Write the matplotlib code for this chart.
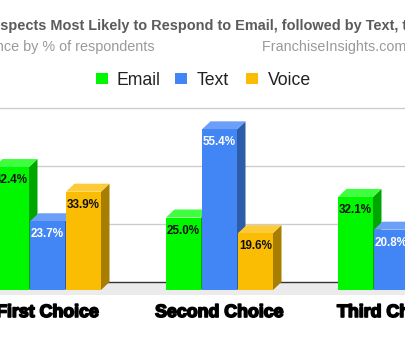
import matplotlib.pyplot as plt
from matplotlib.patches import Polygon, Rectangle
import matplotlib.patheffects as pe
import numpy as np

plt.rcParams['font.family'] = ['Liberation Sans', 'DejaVu Sans']

categories = ['First Choice', 'Second Choice', 'Third Choice']
series = ['Email', 'Text', 'Voice']
email = [42.4, 25.0, 32.1]
text = [23.7, 55.4, 20.8]
voice = [33.9, 19.6, 47.1]
grid_values = [20, 40, 60]

title = 'Prospects Most Likely to Respond to Email, followed by Text, then Voice'
subtitle = 'Channel Preference by % of respondents'
source = 'FranchiseInsights.com, 2019'

# front, side, top shades for each series
shades = {
    'Email': ('#00f700', '#00a600', '#3dff3d'),
    'Text': ('#4285f4', '#2d5ca8', '#6c9ff7'),
    'Voice': ('#fbbc04', '#a87e00', '#fccb37'),
}
label_colors = {'Email': '#111111', 'Text': 'white', 'Voice': '#111111'}

W, H = 406, 339
fig = plt.figure(figsize=(W / 100, H / 100), dpi=100)
ax = fig.add_axes([0, 0, 1, 1])
ax.axis('off')

# pixel layout of the plot area
group_px = 172.0      # distance between category groups
bar_px = 35.0         # bar width
step_px = 36.0        # distance between bars in a group
first_px = 47.5       # x of the middle bar of the first group
base_px = 290.0       # y (from top) of the value 0 on the front plane
pct_px = 2.9          # pixels per percent
depth_x, depth_y = 8.5, 8.0

ax.set_xlim(-first_px / group_px, (W - first_px) / group_px)
ax.set_ylim(-(H - base_px) / pct_px, base_px / pct_px)
DX = depth_x / group_px
DY = depth_y / pct_px
bw = bar_px / group_px
x0, x1 = ax.get_xlim()

# floor and back plane
ax.fill_between([x0, x1], DY, -5 / pct_px, color='#ebebeb', zorder=0, lw=0)
ax.plot([x0, x1], [DY, DY], color='#333333', lw=1, zorder=1)
for g in grid_values:
    ax.plot([x0, x1], [g + DY, g + DY], color='#cccccc', lw=1, zorder=1)

xs = np.arange(len(categories))
z = 2
for i in range(len(categories)):
    for j, (name, vals) in enumerate(zip(series, [email, text, voice])):
        front, side, top = shades[name]
        x = xs[i] + (j - 1) * step_px / group_px
        v = vals[i]
        left, right = x - bw / 2, x + bw / 2
        ax.add_patch(Polygon([(right, 0), (right + DX, DY), (right + DX, v + DY), (right, v)],
                             closed=True, color=side, lw=0, zorder=z))
        ax.add_patch(Polygon([(left, v), (left + DX, v + DY), (right + DX, v + DY), (right, v)],
                             closed=True, color=top, lw=0, zorder=z))
        ax.bar(x, v, width=bw, color=front, lw=0, zorder=z + 0.5)
        ax.annotate(f'{v:.1f}%', (x, v), xytext=(0, -13 * 0.72), textcoords='offset points',
                    ha='center', va='center', fontsize=8.4, fontweight='bold',
                    color=label_colors[name], zorder=z + 0.6)
        z += 1

for i, cat in enumerate(categories):
    ax.text(xs[i], (base_px - 317) / pct_px, cat, ha='center', va='baseline',
            fontsize=12.8, fontweight='bold', color='black',
            path_effects=[pe.withStroke(linewidth=1.2, foreground='black')])

# the title runs past the left edge of the canvas
renderer = fig.canvas.get_renderer()


def width_px(s, **kw):
    t = fig.text(0, 0, s, **kw)
    w = t.get_window_extent(renderer).width
    t.remove()
    return w


title_kw = dict(fontsize=10.45, fontweight='bold', color='#5b5b5b')
fig.text(-width_px('Pro', **title_kw) / W, 1 - 30 / H, title, ha='left', va='baseline', **title_kw)

fig.text(155 / W, 1 - 51.5 / H, subtitle, ha='right', va='baseline', fontsize=10.4, color='#9a9a9a')
fig.text(261.7 / W, 1 - 51.5 / H, source, ha='left', va='baseline', fontsize=10.4, color='#9a9a9a')

# legend
legend_x = [(96, 116.5), (175.5, 197), (246.5, 267.5)]
for name, (sx, tx) in zip(series, legend_x):
    fig.add_artist(Rectangle((sx / W, 1 - 84.3 / H), 11.6 / W, 11.6 / H,
                             transform=fig.transFigure, color=shades[name][0], lw=0))
    fig.text(tx / W, 1 - 85 / H, name, ha='left', va='baseline', fontsize=12.7, color='#222222')

fig.savefig('out.png', dpi=100)
